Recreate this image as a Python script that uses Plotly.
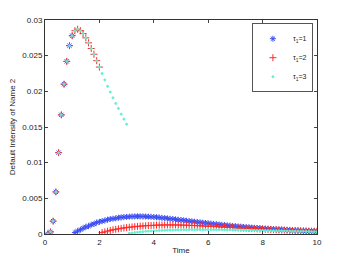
import numpy as np
import plotly.graph_objects as go

# time grid (0.1 .. 10.0)
t = np.round(np.arange(1, 101) * 0.1, 1)

# shared early hump (t = 0.1 .. 3.0)
hump = [0.0000, 0.0003, 0.0018, 0.0059, 0.0114, 0.0167, 0.0210, 0.0242, 0.0264, 0.0278,
        0.0285, 0.0287, 0.0285, 0.0281, 0.0275, 0.0268, 0.0260, 0.0252, 0.0243, 0.0234,
        0.0225, 0.0216, 0.0207, 0.0199, 0.0191, 0.0183, 0.0176, 0.0168, 0.0161, 0.0154]

# tau1 = 1 after t = 1.0 (t = 1.1 .. 10.0)
tail1 = [0.0002, 0.0004, 0.0006, 0.0008, 0.0010, 0.0011, 0.0013, 0.0014, 0.0016, 0.0017,
         0.0018, 0.0019, 0.0020, 0.0021, 0.00215, 0.0022, 0.00228, 0.00233, 0.00237, 0.0024,
         0.00243, 0.00245, 0.00246, 0.00247, 0.00247, 0.00246, 0.00245, 0.00243, 0.00241, 0.00238,
         0.00235, 0.00231, 0.00227, 0.00223, 0.00219, 0.00214, 0.0021, 0.00205, 0.0020, 0.00196,
         0.00191, 0.00186, 0.00182, 0.00177, 0.00172, 0.00168, 0.00163, 0.00159, 0.00154, 0.0015,
         0.00146, 0.00141, 0.00137, 0.00133, 0.00129, 0.00125, 0.00121, 0.00117, 0.00113, 0.0011,
         0.00106, 0.00103, 0.00099, 0.00096, 0.00093, 0.0009, 0.00087, 0.00084, 0.00081, 0.00078,
         0.00075, 0.00073, 0.0007, 0.00068, 0.00065, 0.00063, 0.00061, 0.00059, 0.00056, 0.00054,
         0.00052, 0.0005, 0.00049, 0.00047, 0.00045, 0.00043, 0.00042, 0.0004, 0.00039, 0.00037]

# tau1 = 2 after t = 2.0 (t = 2.1 .. 10.0)
tail2 = [0.0002, 0.0003, 0.0004, 0.0005, 0.0006, 0.00066, 0.00073, 0.00079, 0.00085, 0.0009,
         0.00095, 0.00099, 0.00103, 0.00107, 0.0011, 0.00113, 0.00116, 0.00118, 0.0012, 0.00122,
         0.00124, 0.00125, 0.00126, 0.00127, 0.00127, 0.00127, 0.00127, 0.00127, 0.00126, 0.00125,
         0.00124, 0.00123, 0.00122, 0.0012, 0.00119, 0.00117, 0.00115, 0.00113, 0.00111, 0.00109,
         0.00107, 0.00105, 0.00103, 0.00101, 0.00099, 0.00097, 0.00095, 0.00092, 0.0009, 0.00088,
         0.00086, 0.00084, 0.00082, 0.0008, 0.00078, 0.00076, 0.00074, 0.00072, 0.0007, 0.00068,
         0.00066, 0.00065, 0.00063, 0.00061, 0.00059, 0.00058, 0.00056, 0.00054, 0.00053, 0.00051,
         0.0005, 0.00048, 0.00047, 0.00045, 0.00044, 0.00043, 0.00041, 0.0004, 0.00039, 0.00038]

# tau1 = 3 after t = 3.0 (t = 3.1 .. 10.0)
tail3 = [0.0001, 0.00015, 0.0002, 0.00025, 0.0003, 0.00033, 0.00037, 0.0004, 0.00043, 0.00045,
         0.00047, 0.00049, 0.00051, 0.00052, 0.00054, 0.00055, 0.00056, 0.00057, 0.00058, 0.00059,
         0.00059, 0.0006, 0.0006, 0.0006, 0.00061, 0.00061, 0.00061, 0.00061, 0.00061, 0.00061,
         0.00061, 0.0006, 0.0006, 0.0006, 0.00059, 0.00059, 0.00058, 0.00058, 0.00057, 0.00057,
         0.00056, 0.00055, 0.00055, 0.00054, 0.00053, 0.00053, 0.00052, 0.00051, 0.0005, 0.0005,
         0.00049, 0.00048, 0.00047, 0.00046, 0.00046, 0.00045, 0.00044, 0.00043, 0.00042, 0.00041,
         0.0004, 0.0004, 0.00039, 0.00038, 0.00037, 0.00036, 0.00035, 0.00034, 0.00033, 0.00032]

y1 = hump[:10] + tail1
y2 = hump[:20] + tail2
y3 = hump[:30] + tail3

names = ["τ<sub>1</sub>=1", "τ<sub>1</sub>=2", "τ<sub>1</sub>=3"]
colors = ["#3a4cf5", "#ff2a2a", "#5ff2d2"]
symbols = ["asterisk-open", "cross-thin-open", "circle"]
sizes = [5, 5, 2]

fig = go.Figure()
for y, nm, c, s, sz in zip([y1, y2, y3], names, colors, symbols, sizes):
    fig.add_trace(go.Scatter(
        x=t, y=y, mode="markers", name=nm,
        marker=dict(symbol=s, size=sz, color=c, line=dict(color=c, width=1)),
    ))

font = "Liberation Sans, Arial, sans-serif"
fig.update_layout(
    width=342, height=256,
    margin=dict(l=37, r=33, t=12, b=30, autoexpand=False),
    paper_bgcolor="white", plot_bgcolor="white",
    font=dict(family=font, size=8, color="#222"),
    showlegend=True,
    legend=dict(x=0.985, xanchor="right", y=0.985, yanchor="top",
                bgcolor="white", bordercolor="#555", borderwidth=1,
                font=dict(size=7), itemwidth=30, tracegroupgap=0),
    xaxis=dict(range=[0, 10], tickvals=[0, 2, 4, 6, 8, 10], ticks="inside", ticklen=3,
               showline=True, linecolor="#333", linewidth=1, mirror="ticks",
               showgrid=False, zeroline=False, automargin=False,
               title=dict(text="Time", font=dict(size=8), standoff=1)),
    yaxis=dict(range=[0, 0.03], tickvals=[0, 0.005, 0.01, 0.015, 0.02, 0.025, 0.03],
               ticktext=["0", "0.005", "0.01", "0.015", "0.02", "0.025", "0.03"],
               ticks="inside", ticklen=3,
               showline=True, linecolor="#333", linewidth=1, mirror="ticks",
               showgrid=False, zeroline=False, automargin=False,
               title=dict(text="Default Intensity of Name 2", font=dict(size=8), standoff=6)),
)

fig.write_html("out.html")
